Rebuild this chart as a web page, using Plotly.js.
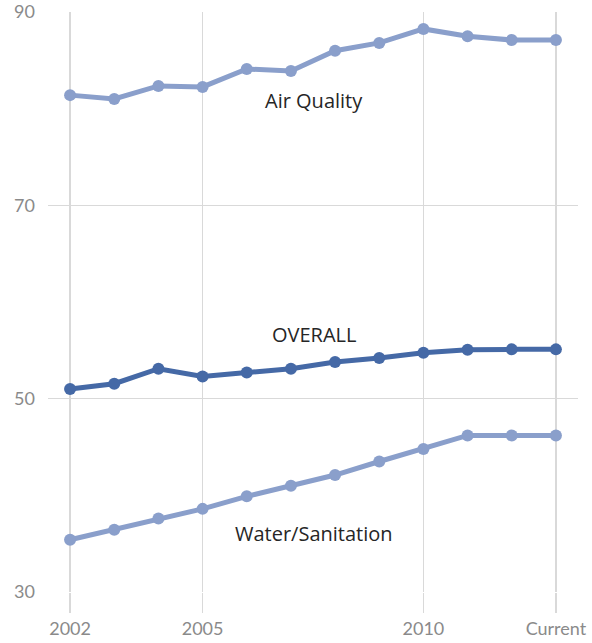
<!DOCTYPE html>
<html>
<head>
<meta charset="utf-8">
<script src="https://cdn.plot.ly/plotly-3.0.1.min.js"></script>
<style>html,body{margin:0;padding:0;background:#fff;}#chart{width:592px;height:643px;}</style>
</head>
<body>
<div id="chart"></div>
<script>
const categories = ['2002','2003','2004','2005','2006','2007','2008','2009','2010','2011','2012','Current'];
const airQuality = [81.4, 81.0, 82.35, 82.25, 84.1, 83.9, 86.0, 86.8, 88.25, 87.5, 87.1, 87.1];
const overall = [51.0, 51.55, 53.1, 52.3, 52.7, 53.1, 53.8, 54.2, 54.75, 55.05, 55.1, 55.1];
const waterSanitation = [35.4, 36.45, 37.6, 38.6, 39.9, 41.0, 42.1, 43.5, 44.8, 46.2, 46.2, 46.2];
const xTickLabels = ['2002','2005','2010','Current'];
const yTickVals = [30, 50, 70, 90];
const seriesNames = ['Air Quality', 'OVERALL', 'Water/Sanitation'];

const light = '#8a9fcb';
const dark = '#4569a6';

function tr(y, name, color) {
  return {x: categories, y: y, name: name, type: 'scatter', mode: 'lines+markers',
    line: {color: color, width: 5}, marker: {color: color, size: 12}, hoverinfo: 'none'};
}
const data = [
  tr(airQuality, seriesNames[0], light),
  tr(waterSanitation, seriesNames[2], light),
  tr(overall, seriesNames[1], dark)
];
const annFont = {family: '"Open Sans", sans-serif', size: 20, color: '#262626'};
const layout = {
  width: 592, height: 643,
  margin: {l: 48, r: 14, t: 12, b: 51},
  paper_bgcolor: '#fff', plot_bgcolor: '#fff',
  showlegend: false,
  font: {family: 'Lato, "Open Sans", sans-serif', color: '#8a8a8a', size: 18},
  xaxis: {type: 'category', range: [-0.5, 11.5], tickmode: 'array', tickvals: xTickLabels, ticktext: xTickLabels,
    showgrid: true, gridcolor: '#d9d9d9', gridwidth: 1.5, ticks: 'outside', ticklen: 20, tickcolor: '#d9d9d9', tickwidth: 1.5,
    showline: false, zeroline: false, tickfont: {size: 18, color: '#8a8a8a'}},
  yaxis: {range: [30, 90], tickmode: 'array', tickvals: yTickVals, showgrid: true, gridcolor: '#d9d9d9', gridwidth: 1.5,
    zeroline: false, showline: false, ticks: '', ticklabelstandoff: 12, tickfont: {size: 18, color: '#8a8a8a'}},
  annotations: [
    {x: 5.52, y: 80.8, xref: 'x', yref: 'y', text: seriesNames[0], showarrow: false, font: annFont},
    {x: 5.52, y: 56.6, xref: 'x', yref: 'y', text: seriesNames[1], showarrow: false, font: annFont},
    {x: 5.52, y: 36.1, xref: 'x', yref: 'y', text: seriesNames[2], showarrow: false, font: annFont}
  ]
};
Plotly.newPlot('chart', data, layout, {displayModeBar: false, staticPlot: true});
</script>
</body>
</html>
